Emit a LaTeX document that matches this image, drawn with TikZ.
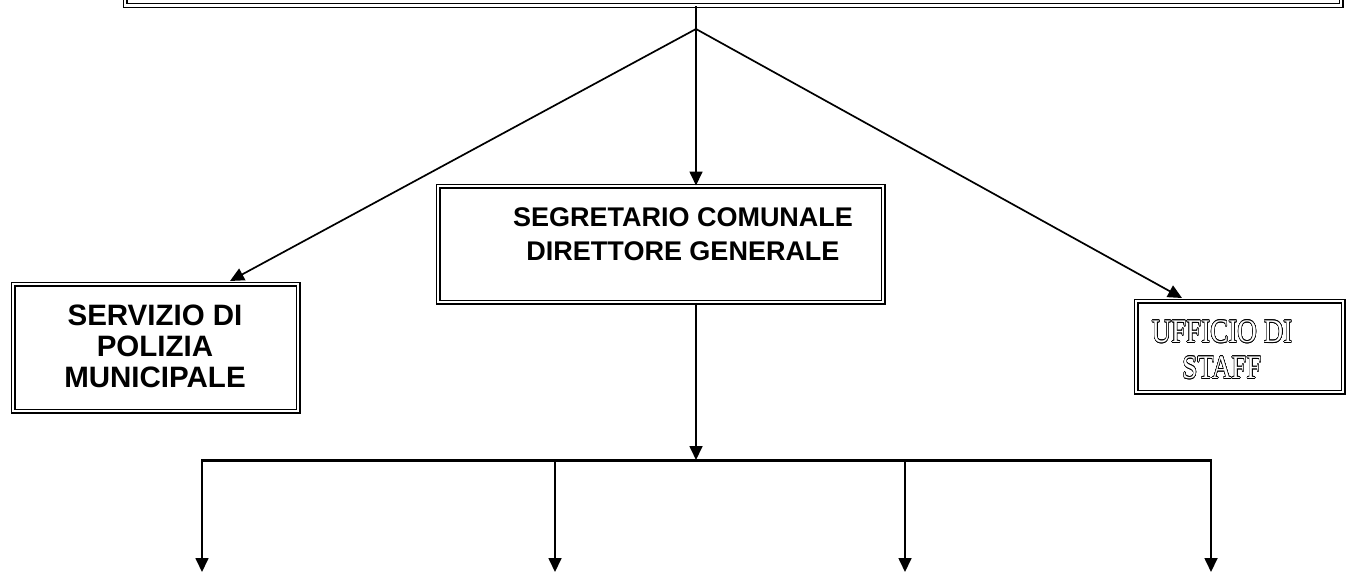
\documentclass[tikz,border=0pt]{standalone}
\usepackage{fontspec}
\setmainfont{Liberation Serif}
\setsansfont{Liberation Sans}
\usepackage{contour}
\contourlength{0.55pt}
\contournumber{24}
\usetikzlibrary{arrows.meta}
\begin{document}
\begin{tikzpicture}[x=1pt,y=-1pt,
  dbox/.style={draw, double, line width=1.3pt, double distance=2.4pt, anchor=north west, inner sep=0pt},
  conn/.style={line width=1.7pt, -{Triangle[length=14pt,width=13pt]}},
  plain/.style={line width=1.7pt},
  bar/.style={line width=3pt},
  sanslbl/.style={font=\sffamily\bfseries, align=center, inner sep=0pt},
  outlbl/.style={font=\rmfamily\fontsize{33}{36}\selectfont, align=center, inner sep=0pt, text=white}]
\useasboundingbox (0,0) rectangle (1348,573);
\begin{scope}
\clip (0,0) rectangle (1348,573);
% top box (cut off at the top)
\node[dbox, minimum width=1216pt, minimum height=40pt] (top) at (124.5,-35) {};
% boxes
\node[dbox, minimum width=285pt, minimum height=127pt] (pol) at (12.5,283.5) {};
\node[dbox, minimum width=445pt, minimum height=116pt] (sdg) at (437.5,185.5) {};
\node[dbox, minimum width=207pt, minimum height=91pt] (uff) at (1135.5,300.5) {};
% texts
\node[sanslbl, font=\sffamily\bfseries\fontsize{29.5}{31}\selectfont] (poltxt) at (155,346) {SERVIZIO DI\\POLIZIA\\MUNICIPALE};
\node[sanslbl, font=\sffamily\bfseries\fontsize{27}{34}\selectfont] (sdgtxt) at (683,234) {SEGRETARIO COMUNALE\\DIRETTORE GENERALE};
\node[outlbl] (ufftxt) at (1222,350) {\scalebox{0.82}[1]{\contour{black}{UFFICIO DI}}\\\scalebox{0.82}[1]{\contour{black}{STAFF}}};
% junction and connectors
\coordinate (j) at (696,29);
\draw[plain] (top.south -| j) -- (j);
\draw[conn] (j) -- (sdg.north -| j);
\draw[conn] (j) -- ([xshift=217.5pt,yshift=2.5pt]pol.north west);
\draw[conn] (j) -- ([xshift=46.5pt,yshift=2.5pt]uff.north west);
% lower distribution
\coordinate (bm) at (696,460);
\coordinate (bl) at (202,460);
\coordinate (b2) at (555,460);
\coordinate (b3) at (905,460);
\coordinate (br) at (1211,460);
\coordinate (d1) at (202,572);
\coordinate (d2) at (555,572);
\coordinate (d3) at (905,572);
\coordinate (d4) at (1211,572);
\draw[conn] (sdg.south -| j) -- (bm);
\draw[bar] ([xshift=-0.85pt]bl) -- ([xshift=0.85pt]br);
\draw[conn] (bl) -- (d1);
\draw[conn] (b2) -- (d2);
\draw[conn] (b3) -- (d3);
\draw[conn] (br) -- (d4);
\end{scope}
\end{tikzpicture}
\end{document}
